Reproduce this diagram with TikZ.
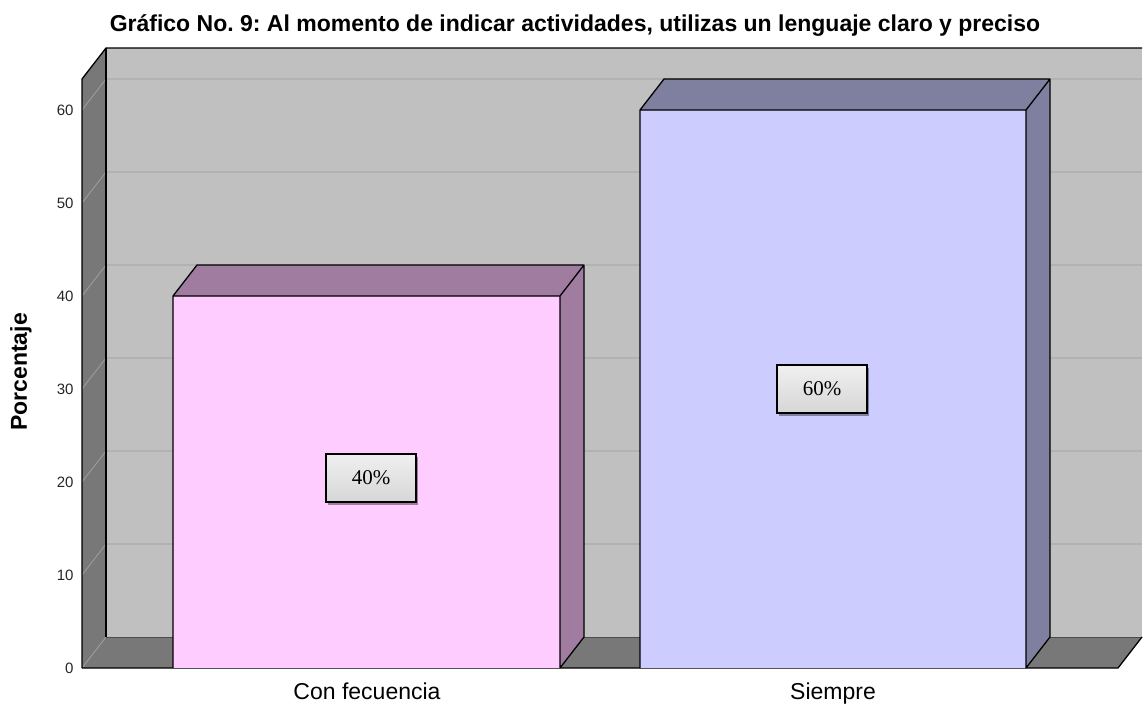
\documentclass[tikz,border=0pt]{standalone}
\usepackage{fontspec}
\setmainfont{Liberation Serif}
\setsansfont{Liberation Sans}
\usetikzlibrary{shadows}
\frenchspacing

\definecolor{pared}{HTML}{C0C0C0}
\definecolor{lado}{HTML}{787878}
\definecolor{rejilla}{HTML}{B2B2B2}
\definecolor{rosa}{HTML}{FFCCFF}
\definecolor{rosaosc}{HTML}{A07DA0}
\definecolor{lila}{HTML}{CCCCFF}
\definecolor{lilaosc}{HTML}{7F7FA0}

\tikzset{
	contorno/.style={draw=black,line width=1.3pt,line join=round},
	etiqueta/.style={draw=black,line width=1.3pt,top color=gray!12,bottom color=gray!32,
		minimum width=90pt,minimum height=48pt,inner sep=0pt,
		font=\fontsize{21}{21}\selectfont},
	marca/.style={font=\sffamily\fontsize{15}{15}\selectfont,anchor=east,text=black!85},
	categoria/.style={font=\sffamily\fontsize{23}{23}\selectfont,anchor=base}
}

% bar: left x, right x, value, light colour, dark colour
\newcommand{\barra}[5]{%
	\pgfmathsetmacro\ytop{668-9.3*#3}
	\fill[#4] (#1,668) rectangle (#2,\ytop);
	\fill[#5] (#1,\ytop) -- ++(24,-31) -- ++(#2-#1,0) -- (#2,\ytop) -- cycle;
	\fill[#5] (#2,\ytop) -- ++(24,-31) -- (#2+24,637) -- (#2,668) -- cycle;
	\draw[contorno] (#1,668) -- (#1,\ytop) -- ++(24,-31) -- ++(#2-#1,0) -- (#2+24,637) -- (#2,668)
		(#1,\ytop) -- (#2,\ytop) -- ++(24,-31)
		(#2,\ytop) -- (#2,668);
}

\begin{document}
\begin{tikzpicture}[x=1pt,y=-1pt]
	\useasboundingbox[fill=white] (0,0) rectangle (1143,704);
	
	%back wall
	\fill[pared] (106,48) rectangle (1142,637);
	\foreach \v in {10,20,...,60}
		\draw[rejilla,line width=1.2pt] (106,{637-9.3*\v}) -- (1142,{637-9.3*\v});
	
	%left wall and floor
	\fill[lado] (82,79) -- (106,48) -- (106,637) -- (82,668) -- cycle;
	\fill[lado] (82,668) -- (106,637) -- (1142,637) -- (1118,668) -- cycle;
	\foreach \v in {0,10,...,60}
		\draw[gray!75,line width=0.8pt] (82,{668-9.3*\v}) -- (106,{637-9.3*\v});
	\draw[black!70,line width=1pt] (106,637) -- (1142,637);
	\draw[contorno] (82,668) -- (82,79) -- (106,48) -- (1142,48);
	\draw[contorno] (106,48) -- (106,637);
	\draw[contorno] (82,668) -- (1118,668) -- (1142,637);
	
	%bars
	\barra{173}{560}{40}{rosa}{rosaosc}
	\barra{640}{1026}{60}{lila}{lilaosc}
	
	%value labels
	\node[etiqueta,drop shadow={shadow xshift=2pt,shadow yshift=-3pt,fill=rosaosc,opacity=1}] (etq40) at (371,478) {40\%};
	\node[etiqueta,drop shadow={shadow xshift=2pt,shadow yshift=-3pt,fill=lilaosc,opacity=1}] (etq60) at (822,389) {60\%};
	
	%axis ticks
	\foreach \v in {0,10,...,60}
		\node[marca] (tick\v) at (77,{668-9.3*\v}) {\v};
	
	%axis titles
	\node[font=\sffamily\bfseries\fontsize{23}{23}\selectfont,rotate=90] (ejey) at (21,372) {Porcentaje};
	\node[categoria] (cat1) at (367,699) {Con fecuencia};
	\node[categoria] (cat2) at (833,699) {Siempre};
	
	%title
	\node[font=\sffamily\bfseries\fontsize{23}{23}\selectfont] (titulo) at (575,26)
		{Gráfico No. 9: Al momento de indicar actividades, utilizas un lenguaje claro y preciso};
\end{tikzpicture}
\end{document}
